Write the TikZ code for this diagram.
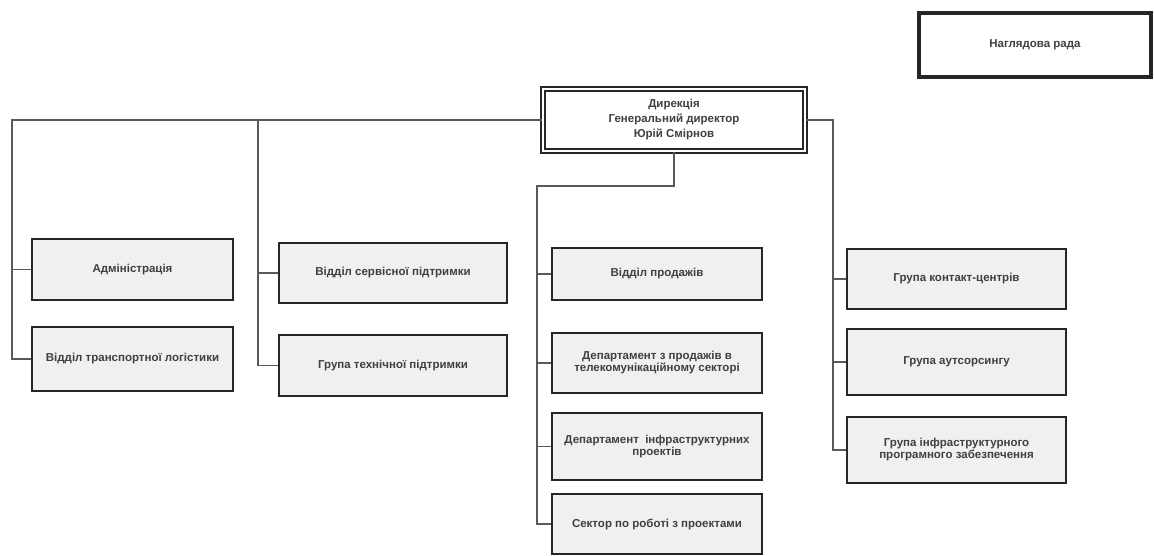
\documentclass[tikz,border=0pt]{standalone}
\usepackage{fontspec}
\setmainfont{Liberation Sans}
\begin{document}
\begin{tikzpicture}[x=1pt,y=-1pt,
  unit/.style={draw=black!85,line width=2pt,fill=black!6,align=center,inner sep=0pt,
    text=black!75,font=\fontsize{11.5}{12}\selectfont\bfseries},
  link/.style={draw=black!65,line width=1.3pt}]
  \useasboundingbox (0,0) rectangle (1154,556);
  % top level
  \node[unit,fill=white,line width=3.5pt,minimum width=232,minimum height=64] (board) at (1035,45) {Наглядова рада};
  \node[unit,fill=white,double,double distance=1.2pt,line width=2pt,minimum width=262,minimum height=62,
    font=\fontsize{11.5}{15}\selectfont\bfseries] (dir) at (674,120) {Дирекція\\Генеральний директор\\Юрій Смірнов};
  % column 1
  \node[unit,minimum width=201,minimum height=61] (adm) at (132.5,269.5) {Адміністрація};
  \node[unit,minimum width=201,minimum height=64] (logist) at (132.5,359) {Відділ транспортної логістики};
  % column 2
  \node[unit,minimum width=228,minimum height=60] (serv) at (393,273) {Відділ сервісної підтримки};
  \node[unit,minimum width=228,minimum height=61] (tech) at (393,365.5) {Група технічної підтримки};
  % column 3
  \node[unit,minimum width=210,minimum height=52] (sales) at (657,274) {Відділ продажів};
  \node[unit,minimum width=210,minimum height=60] (telecom) at (657,363) {Департамент з продажів в\\телекомунікаційному секторі};
  \node[unit,minimum width=210,minimum height=67] (infra) at (657,446.5) {Департамент\ \ інфраструктурних\\проектів};
  \node[unit,minimum width=210,minimum height=60] (sector) at (657,524) {Сектор по роботі з проектами};
  % column 4
  \node[unit,minimum width=219,minimum height=60] (contact) at (956.5,279) {Група контакт-центрів};
  \node[unit,minimum width=219,minimum height=66] (outs) at (956.5,362) {Група аутсорсингу};
  \node[unit,minimum width=219,minimum height=66] (infsoft) at (956.5,450) {Група інфраструктурного\\програмного забезпечення};
  % buses
  \coordinate (bus1) at (12,120);
  \coordinate (bus2) at (258,120);
  \coordinate (bus3) at (537,186);
  \coordinate (bus4) at (833,120);
  \draw[link] (dir.west) -- (bus1) |- (logist.west);
  \draw[link] (bus1 |- adm.west) -- (adm.west);
  \draw[link] (bus2) |- (tech.west);
  \draw[link] (bus2 |- serv.west) -- (serv.west);
  \draw[link] (dir.south) |- (bus3) |- (sector.west);
  \draw[link] (bus3 |- sales.west) -- (sales.west);
  \draw[link] (bus3 |- telecom.west) -- (telecom.west);
  \draw[link] (bus3 |- infra.west) -- (infra.west);
  \draw[link] (dir.east) -- (bus4) |- (infsoft.west);
  \draw[link] (bus4 |- contact.west) -- (contact.west);
  \draw[link] (bus4 |- outs.west) -- (outs.west);
\end{tikzpicture}
\end{document}
